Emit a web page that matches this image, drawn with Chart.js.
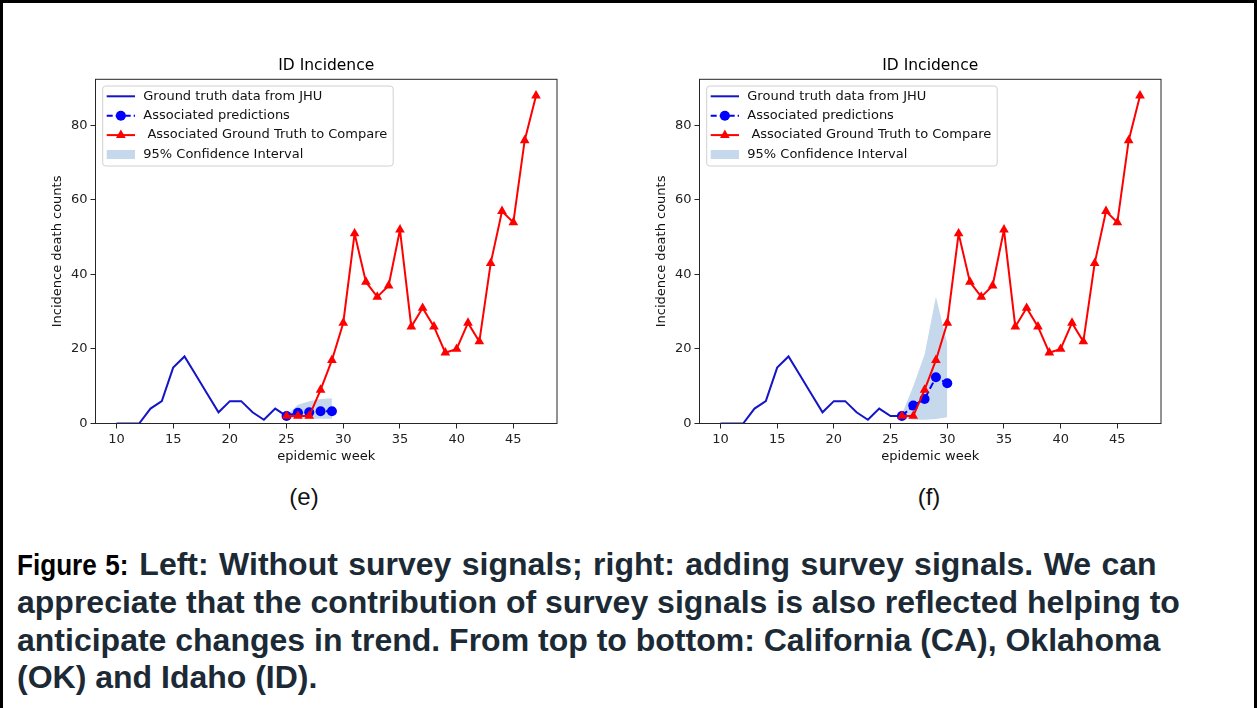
<!DOCTYPE html>
<html>
<head>
<meta charset="utf-8">
<script src="https://cdn.jsdelivr.net/npm/chart.js@4.4.1/dist/chart.umd.min.js"></script>
<style>
  html, body { margin: 0; padding: 0; background: #fff; }
  #page {
    position: relative; width: 1257px; height: 708px; overflow: hidden;
    background: #fff; box-sizing: border-box;
    border-top: 3px solid #000; border-left: 3px solid #000; border-right: 3px solid #000;
  }
  .panel { position: absolute; top: 38px; width: 620px; height: 440px; }
  .panel canvas { display: block; }
  .sub {
    position: absolute; top: 479px; width: 80px; margin-left: -40px; text-align: center;
    font: 24px "Liberation Sans", Arial, sans-serif; color: #111; line-height: 30px;
  }
  #caption {
    position: absolute; left: 14px; top: 543px; width: 1240px;
    font: bold 32px "Liberation Sans", Arial, sans-serif; color: #1c2a36; line-height: 37.3px;
  }
  #caption .lead {
    color: #000; font-size: 29px; display: inline-block; transform: scaleX(0.9); transform-origin: 0 50%;
    margin-right: -12px;
  }
  #caption .first { word-spacing: 1.5px; }
  #caption div { white-space: nowrap; }
</style>
</head>
<body>
<div id="page">
  <div class="panel" style="left:-3px"><canvas id="chartE" width="620" height="440"></canvas></div>
  <div class="panel" style="left:601px"><canvas id="chartF" width="620" height="440"></canvas></div>
  <div class="sub" style="left:301px">(e)</div>
  <div class="sub" style="left:926px">(f)</div>
  <div id="caption">
    <div class="first"><span class="lead">Figure 5:</span> Left: Without survey signals; right: adding survey signals. We can</div>
    <div>appreciate that the contribution of survey signals is also reflected helping to</div>
    <div>anticipate changes in trend. From top to bottom: California (CA), Oklahoma</div>
    <div>(OK) and Idaho (ID).</div>
  </div>
</div>
<script>
// Idaho weekly incidence deaths, epidemic weeks
const xTicks = [10, 15, 20, 25, 30, 35, 40, 45];
const yTicks = [0, 20, 40, 60, 80];

// (e) model without survey signals
const jhuWeeksE = [10, 11, 12, 13, 14, 15, 16, 17, 18, 19, 20, 21, 22, 23, 24, 25];
const jhuDeathsE = [0, 0, 0, 4, 6, 15, 18, 13, 8, 3, 6, 6, 3, 1, 4, 2];
const predWeeksE = [25, 26, 27, 28, 29];
const predDeathsE = [2.0, 2.9, 3.0, 3.3, 3.3];
const ciLowE = [1.8, 1.4, 1.3, 1.3, 1.3];
const ciHighE = [2.2, 5.0, 6.0, 6.6, 6.8];
const truthWeeksE = [25, 26, 27, 28, 29, 30, 31, 32, 33, 34, 35, 36, 37, 38, 39, 40, 41, 42, 43, 44, 45, 46, 47];
const truthDeathsE = [2, 2, 2, 9, 17, 27, 51, 38, 34, 37, 52, 26, 31, 26, 19, 20, 27, 22, 43, 57, 54, 76, 88];

// (f) model with survey signals
const jhuWeeksF = [10, 11, 12, 13, 14, 15, 16, 17, 18, 19, 20, 21, 22, 23, 24, 25, 26];
const jhuDeathsF = [0, 0, 0, 4, 6, 15, 18, 13, 8, 3, 6, 6, 3, 1, 4, 2, 2];
const predWeeksF = [26, 27, 28, 29, 30];
const predDeathsF = [2.0, 4.8, 6.6, 12.4, 10.8];
const ciLowF = [1.8, 1.0, 1.0, 1.2, 1.7];
const ciHighF = [2.5, 10.0, 18.5, 34.0, 21.5];
const truthWeeksF = [26, 27, 28, 29, 30, 31, 32, 33, 34, 35, 36, 37, 38, 39, 40, 41, 42, 43, 44, 45, 46, 47];
const truthDeathsF = [2, 2, 9, 17, 27, 51, 38, 34, 37, 52, 26, 31, 26, 19, 20, 27, 22, 43, 57, 54, 76, 88];

const chartTitle = 'ID Incidence';
const legendLabels = ['Ground truth data from JHU', 'Associated predictions', ' Associated Ground Truth to Compare', '95% Confidence Interval'];

const BLUE_LINE = '#1414c8';
const BLUE = '#0000ff';
const RED = '#ff0000';
const BAND = '#c6d9ec';
const FONT = '"DejaVu Sans", sans-serif';

const pts = (xs, ys) => xs.map((x, i) => ({ x, y: ys[i] }));

// axes frame, title and matplotlib-style legend
const decor = {
  id: 'decor',
  afterDraw(chart) {
    const { ctx, chartArea: a } = chart;
    ctx.save();
    ctx.strokeStyle = '#262626';
    ctx.lineWidth = 1;
    ctx.strokeRect(a.left, a.top, a.right - a.left, a.bottom - a.top);

    ctx.fillStyle = '#000';
    ctx.font = '15.5px ' + FONT;
    ctx.textAlign = 'center';
    ctx.textBaseline = 'middle';
    ctx.fillText(chartTitle, (a.left + a.right) / 2, a.top - 13.5);

    const bx = a.left + 7.2, by = a.top + 6.7, bw = 290.5, bh = 80;
    ctx.beginPath();
    ctx.roundRect(bx, by, bw, bh, 3);
    ctx.fillStyle = 'rgba(255,255,255,0.8)';
    ctx.fill();
    ctx.strokeStyle = '#d0d0d0';
    ctx.stroke();

    const h0 = a.left + 11.2, h1 = a.left + 39.5, hm = (h0 + h1) / 2;
    ctx.font = '13px ' + FONT;
    ctx.textAlign = 'left';
    legendLabels.forEach((lab, i) => {
      const y = by + 10.3 + i * 19.4;
      ctx.lineWidth = 2;
      ctx.setLineDash([]);
      if (i === 0) {
        ctx.strokeStyle = BLUE_LINE;
        ctx.beginPath(); ctx.moveTo(h0, y); ctx.lineTo(h1, y); ctx.stroke();
      } else if (i === 1) {
        ctx.strokeStyle = BLUE;
        ctx.setLineDash([6, 3]);
        ctx.beginPath(); ctx.moveTo(h0, y); ctx.lineTo(h1, y); ctx.stroke();
        ctx.setLineDash([]);
        ctx.fillStyle = BLUE;
        ctx.beginPath(); ctx.arc(hm, y, 5, 0, Math.PI * 2); ctx.fill();
      } else if (i === 2) {
        ctx.strokeStyle = RED;
        ctx.beginPath(); ctx.moveTo(h0, y); ctx.lineTo(h1, y); ctx.stroke();
        ctx.fillStyle = RED;
        const r = 5.6;
        ctx.beginPath();
        ctx.moveTo(hm, y - r);
        ctx.lineTo(hm + r * 0.866, y + r * 0.5);
        ctx.lineTo(hm - r * 0.866, y + r * 0.5);
        ctx.closePath(); ctx.fill();
      } else {
        ctx.fillStyle = BAND;
        ctx.fillRect(h0, y - 4.5, h1 - h0, 9);
      }
      ctx.fillStyle = '#111';
      ctx.textBaseline = 'middle';
      ctx.fillText(lab, a.left + 47.8, y);
    });
    ctx.restore();
  }
};

function makeChart(id, jw, jd, pw, pd, lo, hi, tw, td) {
  return new Chart(document.getElementById(id), {
    type: 'line',
    data: {
      datasets: [
        { data: pts(tw, td), borderColor: RED, backgroundColor: RED, borderWidth: 2,
          pointStyle: 'triangle', pointRadius: 5.6, pointBorderWidth: 0, order: 1 },
        { data: pts(pw, pd), borderColor: BLUE, backgroundColor: BLUE, borderWidth: 2,
          borderDash: [7, 3], pointStyle: 'circle', pointRadius: 5, pointBorderWidth: 0, order: 2 },
        { data: pts(jw, jd), borderColor: BLUE_LINE, borderWidth: 2, pointRadius: 0, order: 3 },
        { data: pts(pw, lo), borderWidth: 0, borderColor: 'rgba(0,0,0,0)', pointRadius: 0, fill: false, order: 5 },
        { data: pts(pw, hi), borderWidth: 0, borderColor: 'rgba(0,0,0,0)', pointRadius: 0,
          backgroundColor: BAND, fill: '-1', order: 4 }
      ]
    },
    options: {
      responsive: false,
      animation: false,
      devicePixelRatio: 1,
      layout: { padding: { left: 44, right: 63, top: 38.3, bottom: 12.5 } },
      plugins: { legend: { display: false }, tooltip: { enabled: false }, title: { display: false } },
      elements: { line: { tension: 0 } },
      scales: {
        x: {
          type: 'linear', min: 8.15, max: 48.85,
          afterBuildTicks: s => { s.ticks = xTicks.map(v => ({ value: v })); },
          afterFit: s => { s.height = 45; },
          grid: { drawOnChartArea: false, drawTicks: true, tickLength: 5, color: '#262626' },
          border: { display: false },
          ticks: { font: { family: FONT, size: 13 }, color: '#222', padding: 3, maxRotation: 0 },
          title: { display: true, text: 'epidemic week', font: { family: FONT, size: 13 }, color: '#111',
                   padding: { top: 0, bottom: 3.7 } }
        },
        y: {
          type: 'linear', min: 0, max: 92.4,
          afterBuildTicks: s => { s.ticks = yTicks.map(v => ({ value: v })); },
          afterFit: s => { s.width = 51.5; },
          grid: { drawOnChartArea: false, drawTicks: true, tickLength: 5, color: '#262626' },
          border: { display: false },
          ticks: { font: { family: FONT, size: 13 }, color: '#222', padding: 3 },
          title: { display: true, text: 'Incidence death counts', font: { family: FONT, size: 13 }, color: '#111',
                   padding: { top: 5.5, bottom: 0 } }
        }
      }
    },
    plugins: [decor]
  });
}

makeChart('chartE', jhuWeeksE, jhuDeathsE, predWeeksE, predDeathsE, ciLowE, ciHighE, truthWeeksE, truthDeathsE);
makeChart('chartF', jhuWeeksF, jhuDeathsF, predWeeksF, predDeathsF, ciLowF, ciHighF, truthWeeksF, truthDeathsF);
</script>
</body>
</html>
